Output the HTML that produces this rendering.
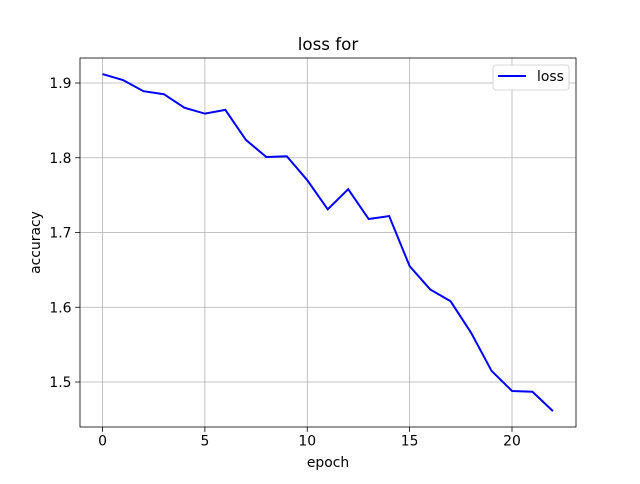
<!DOCTYPE html>
<html><head><meta charset="utf-8"><style>
body{margin:0;background:#fff;width:640px;height:480px;overflow:hidden;font-family:"DejaVu Sans","Liberation Sans",sans-serif}
</style></head><body>
<svg id="c" width="640" height="480" xmlns="http://www.w3.org/2000/svg"></svg>
<script>
const epochs=[0,1,2,3,4,5,6,7,8,9,10,11,12,13,14,15,16,17,18,19,20,21,22];
const lossValues=[1.912,1.904,1.889,1.885,1.867,1.859,1.864,1.824,1.801,1.802,1.770,1.731,1.758,1.718,1.722,1.655,1.624,1.608,1.566,1.515,1.488,1.487,1.461];
const xTicks=[0,5,10,15,20];
const yTicks=[1.5,1.6,1.7,1.8,1.9];
const L=80,R=576,T=58,B=427;
const x=v=>102.5+v*20.475;
const y=v=>83+(1.9-v)*747.5;
const svg=document.getElementById('c');
const NS='http://www.w3.org/2000/svg';
function mk(t,a,txt){const e=document.createElementNS(NS,t);for(const k in a)e.setAttribute(k,a[k]);if(txt!==undefined)e.textContent=txt;svg.appendChild(e);return e;}
xTicks.forEach(t=>{
const g=mk('line',{x1:x(t),x2:x(t),y1:T,y2:B,stroke:'#b0b0b0','stroke-width':0.8});

const k=mk('line',{x1:x(t),x2:x(t),y1:B,y2:B+4.9,stroke:'#000','stroke-width':0.8});

const l=mk('text',{x:x(t),y:B+18.5,'font-size':13.9,'text-anchor':'middle'},String(t));

});
yTicks.forEach(t=>{
const g=mk('line',{x1:L,x2:R,y1:y(t),y2:y(t),stroke:'#b0b0b0','stroke-width':0.8});

const k=mk('line',{x1:L-4.9,x2:L,y1:y(t),y2:y(t),stroke:'#000','stroke-width':0.8});

const l=mk('text',{x:L-8.5,y:y(t)+5,'font-size':13.9,'text-anchor':'end'},t.toFixed(1));

});
const line=mk('polyline',{points:epochs.map((e,i)=>x(e)+','+y(lossValues[i])).join(' '),fill:'none',stroke:'#0000ff','stroke-width':2});

const fr=mk('rect',{x:L,y:T,width:R-L,height:B-T,fill:'none',stroke:'#000','stroke-width':0.8});

const ti=mk('text',{x:(L+R)/2,y:T-8,'font-size':16.7,'text-anchor':'middle'},'loss for');

const xl=mk('text',{x:(L+R)/2,y:467,'font-size':13.9,'text-anchor':'middle'},'epoch');

const yl=mk('text',{x:40,y:(T+B)/2,'font-size':13.9,'text-anchor':'middle',transform:'rotate(-90 40 '+(T+B)/2+')'},'accuracy');

const lg=mk('rect',{x:493,y:65,width:76,height:25,fill:'#fff',stroke:'#ccc','stroke-width':0.8,rx:3});

const ll=mk('line',{x1:498,x2:526,y1:76,y2:76,stroke:'#0000ff','stroke-width':2});

const lt=mk('text',{x:537,y:81,'font-size':13.9},'loss');

</script>
</body></html>
